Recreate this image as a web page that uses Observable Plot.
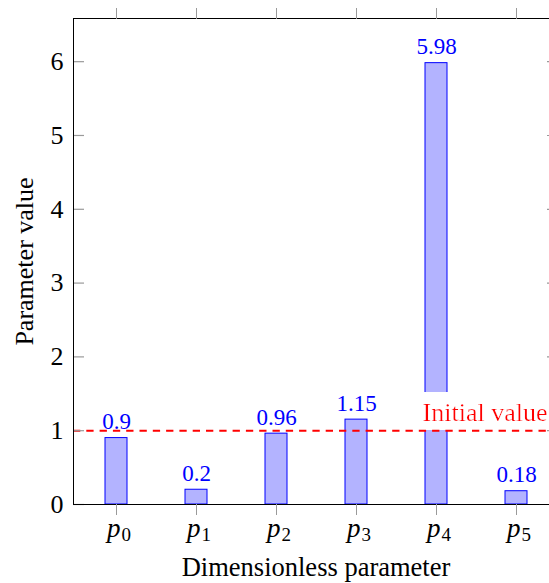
<!DOCTYPE html>
<html>
<head>
<meta charset="utf-8">
<script src="https://cdn.jsdelivr.net/npm/d3@7"></script>
<script src="https://cdn.jsdelivr.net/npm/@observablehq/plot@0.6"></script>
<style>
  html, body { margin: 0; padding: 0; background: #fff; overflow: hidden; }
  #chart svg { overflow: hidden; display: block; }
  #chart svg, #chart svg text { font-family: "Liberation Serif", "Times New Roman", serif !important; }
</style>
</head>
<body>
<div id="chart"></div>
<script>
const categories = ["p0", "p1", "p2", "p3", "p4", "p5"];
const subscripts = ["0", "1", "2", "3", "4", "5"];
const values = [0.9, 0.2, 0.96, 1.15, 5.98, 0.18];
const valueLabels = ["0.9", "0.2", "0.96", "1.15", "5.98", "0.18"];
const initialValue = 1;
const initialLabel = "Initial value";
const yTicks = [0, 1, 2, 3, 4, 5, 6];
const yDomainMax = 6.585;
const xTitle = "Dimensionless parameter";
const yTitle = "Parameter value";

const data = categories.map((c, i) => ({cat: c, sub: subscripts[i], value: values[i], label: valueLabels[i]}));

const font = "Liberation Serif";
const tickGray = "#9a9a9a";
const W = 549, mL = 73, mR = -9;
const frameW = W - mL - mR;

const chart = Plot.plot({
  width: W,
  height: 583,
  marginLeft: mL,
  marginRight: mR,
  marginTop: 18,
  marginBottom: 79,
  style: {fontSize: "26px", background: "#fff", color: "#000"},
  x: {domain: categories, paddingInner: 0.73, paddingOuter: 0.365, axis: null},
  y: {domain: [0, yDomainMax], axis: null},
  marks: [
    Plot.barY(data, {x: "cat", y: "value", fill: "#b3b3ff", stroke: "#0000ff", strokeWidth: 1}),
    Plot.text([initialValue], {y: d => d, text: () => initialLabel, frameAnchor: "right", textAnchor: "end",
      lineAnchor: "middle", dx: -11, dy: -18, fill: "#ff0000", fontSize: 26, fontFamily: font}),
    Plot.ruleY([initialValue], {stroke: "#ff0000", strokeWidth: 2, strokeDasharray: "7.3,6"}),
    Plot.text(data, {x: "cat", y: "value", text: "label", fill: "#0000ff", fontSize: 23, dy: -16.5,
      lineAnchor: "middle", fontFamily: font}),
    Plot.ruleY(yTicks, {y: d => d, stroke: tickGray, strokeWidth: 1.2, insetLeft: 0, insetRight: frameW - 11}),
    Plot.ruleY(yTicks, {y: d => d, stroke: tickGray, strokeWidth: 1.2, insetLeft: frameW - 11, insetRight: 0}),
    Plot.frame({stroke: "#000", strokeWidth: 1}),
    Plot.axisY(yTicks, {anchor: "left", tickSize: 0, tickPadding: 10, fontSize: 26, label: null, tickFormat: d => String(d), fontFamily: font}),
    Plot.axisX({anchor: "bottom", tickSize: 11, text: null, stroke: tickGray, label: null}),
    Plot.axisX({anchor: "top", tickSize: 11, text: null, stroke: tickGray, label: null}),
    Plot.text(data, {x: "cat", text: () => "p", frameAnchor: "bottom", fontStyle: "italic", textAnchor: "end",
      lineAnchor: "middle", dx: 4, dy: 24, fontSize: 27, fontFamily: font}),
    Plot.text(data, {x: "cat", text: "sub", frameAnchor: "bottom", textAnchor: "start", lineAnchor: "middle",
      dx: 5, dy: 30, fontSize: 19, fontFamily: font}),
    Plot.text([xTitle], {frameAnchor: "bottom", textAnchor: "middle", lineAnchor: "middle", dy: 63, fontSize: 26.5, fontFamily: font}),
    Plot.text([yTitle], {frameAnchor: "left", textAnchor: "middle", lineAnchor: "middle", rotate: -90, dx: -49, fontSize: 26, fontFamily: font})
  ]
});

// white background box behind the "Initial value" label
const ns = "http://www.w3.org/2000/svg";
const defs = document.createElementNS(ns, "defs");
const filter = document.createElementNS(ns, "filter");
filter.setAttribute("id", "whitebox");
filter.setAttribute("x", "-0.03");
filter.setAttribute("y", "-0.2");
filter.setAttribute("width", "1.1");
filter.setAttribute("height", "1.3");
const flood = document.createElementNS(ns, "feFlood");
flood.setAttribute("flood-color", "#ffffff");
flood.setAttribute("result", "bg");
const merge = document.createElementNS(ns, "feMerge");
const m1 = document.createElementNS(ns, "feMergeNode"); m1.setAttribute("in", "bg");
const m2 = document.createElementNS(ns, "feMergeNode"); m2.setAttribute("in", "SourceGraphic");
merge.appendChild(m1); merge.appendChild(m2);
filter.appendChild(flood); filter.appendChild(merge);
defs.appendChild(filter);
chart.insertBefore(defs, chart.firstChild);
chart.querySelectorAll("text").forEach(t => {
  if (t.textContent === initialLabel) t.setAttribute("filter", "url(#whitebox)");
});

document.getElementById("chart").appendChild(chart);
</script>
</body>
</html>
